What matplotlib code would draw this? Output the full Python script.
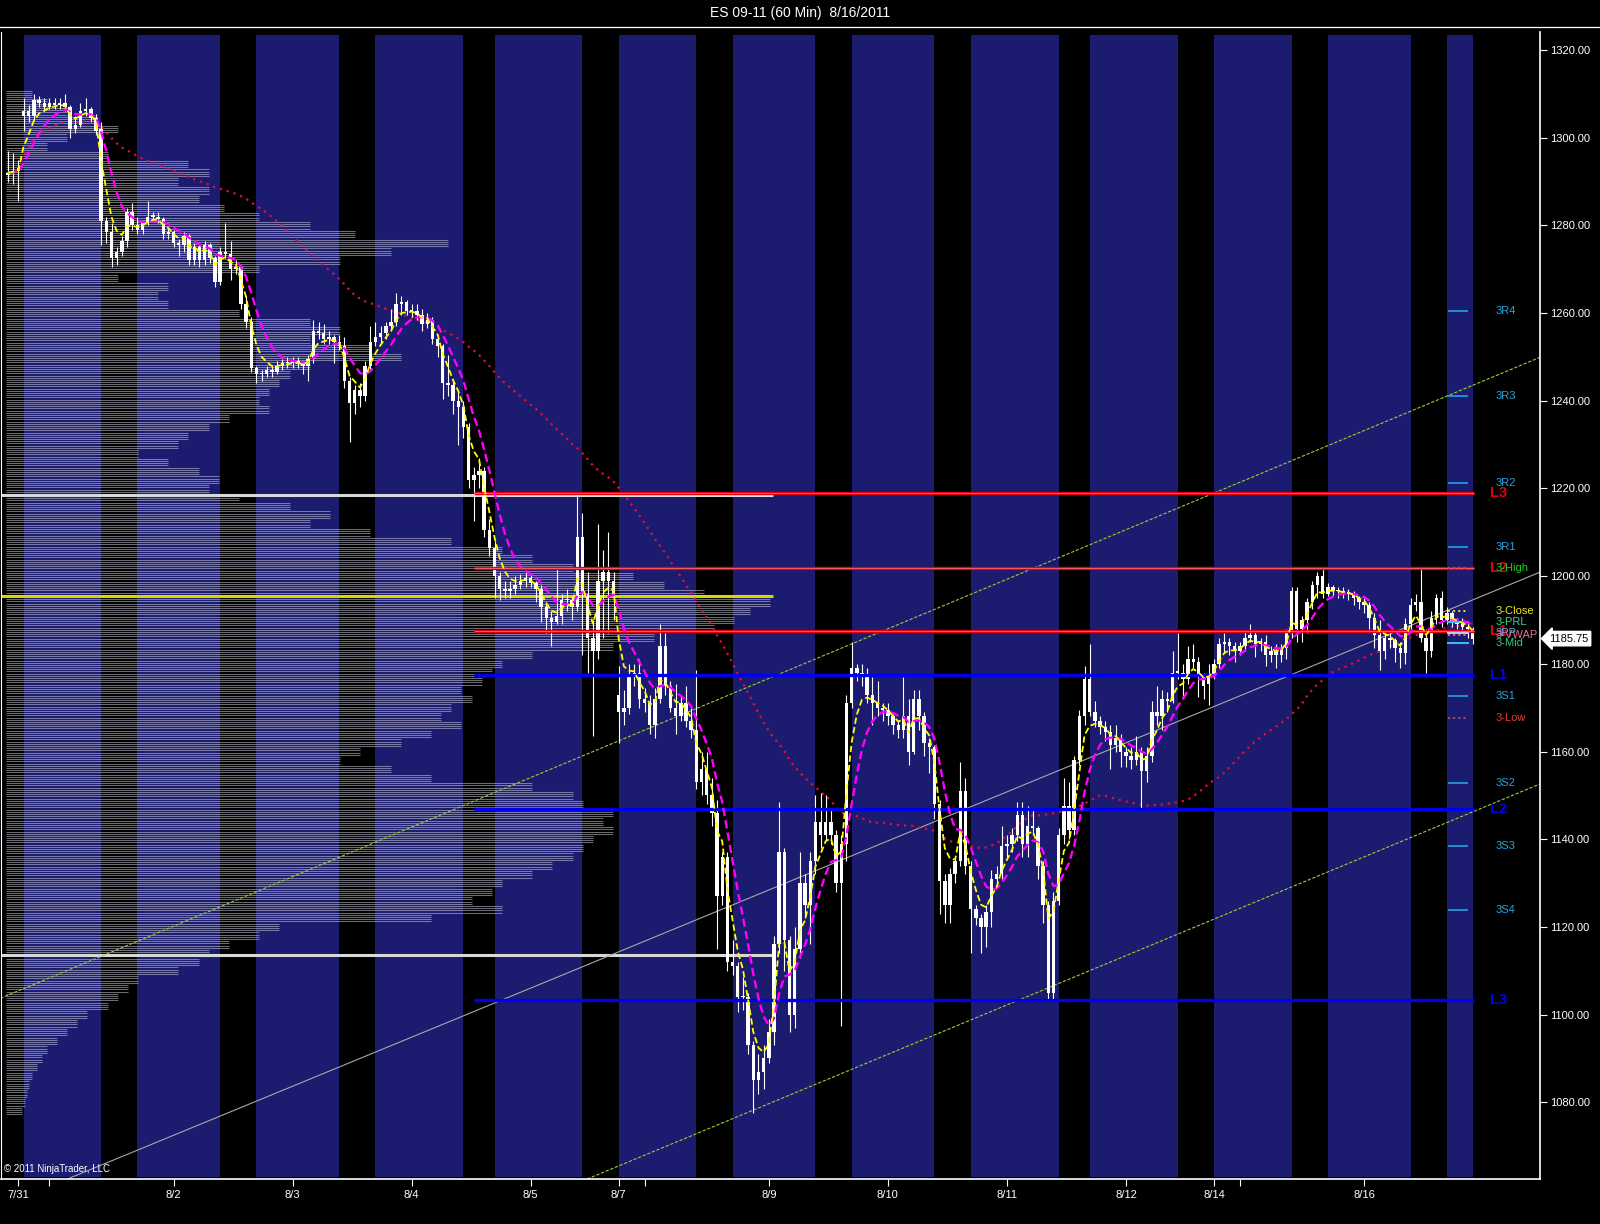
import numpy as np
import pandas as pd
import matplotlib
matplotlib.use("Agg")
import matplotlib.pyplot as plt
from matplotlib.collections import LineCollection
from matplotlib.lines import Line2D
from matplotlib.transforms import blended_transform_factory

TITLE = "ES 09-11 (60 Min)  8/16/2011"

# hourly bars, index 0 = first bar on the chart (7/31 evening)
OPEN = [
    1291.5, 1292, 1292.5, 1305, 1306, 1305, 1308.5, 1308, 1307, 1308, 1307.5, 1308,
    1307, 1302, 1303, 1306, 1306.5, 1304.5, 1302, 1281, 1278.5, 1272.5, 1274, 1276.5,
    1283, 1280, 1279, 1280.5, 1282, 1282, 1281.5, 1278, 1278.5, 1276, 1275.5, 1277.5,
    1272, 1275, 1272, 1275.5, 1272.5, 1267, 1274, 1273.5, 1270, 1270.5, 1262, 1258,
    1247.5, 1246, 1246, 1247, 1246.5, 1248, 1248.5, 1248.5, 1249, 1248.5, 1248, 1249.5,
    1256, 1255.5, 1254, 1254.5, 1253.5, 1252.5, 1244.5, 1239.5, 1242.5, 1241, 1248, 1253.5,
    1254.5, 1255.5, 1257, 1258, 1262, 1262.5, 1260.5, 1260.5, 1259.5, 1257.5, 1258.5, 1254,
    1252.5, 1244, 1243.5, 1240, 1238.5, 1234, 1222, 1223, 1224, 1210.5, 1206.5, 1200,
    1197, 1196.5, 1197, 1198, 1199, 1199.5, 1198.5, 1197, 1193, 1190.5, 1189.5, 1191,
    1194.5, 1194.5, 1193, 1209, 1196, 1186, 1183, 1199, 1201, 1199, 1173, 1169,
    1170, 1177, 1178, 1172, 1171, 1166, 1172, 1184, 1175, 1170, 1168, 1171,
    1167, 1165, 1153, 1156, 1150, 1146, 1127, 1136, 1112, 1111, 1104, 1104,
    1093, 1085, 1087, 1090, 1096, 1116, 1137, 1117, 1100, 1115, 1130, 1125,
    1135, 1144, 1141, 1144, 1141, 1130, 1139, 1171, 1179, 1178, 1177, 1173,
    1171, 1170, 1169.5, 1168, 1166, 1165, 1168, 1160, 1172, 1168, 1162, 1161,
    1148, 1130.5, 1125, 1132, 1135, 1151, 1134, 1124, 1122, 1120, 1123.5, 1131,
    1132, 1138.5, 1139, 1141, 1145.5, 1139, 1143, 1142.5, 1134, 1125, 1105, 1126,
    1141, 1147.5, 1142, 1158, 1168, 1176.5, 1169, 1167, 1165.5, 1164.5, 1161.5, 1163,
    1160, 1159, 1158, 1160, 1155.5, 1159, 1169, 1168, 1172, 1171.5, 1178, 1178,
    1176.5, 1181, 1180.5, 1177, 1175.5, 1177.5, 1180, 1184.5, 1185, 1184, 1183, 1184,
    1186, 1186.5, 1184.5, 1185, 1182, 1183, 1182, 1183.5, 1187, 1196.5, 1188, 1190,
    1194, 1198, 1200, 1196, 1197.5, 1196.5, 1196.5, 1196, 1196, 1195, 1194, 1193.5,
    1190.5, 1186.5, 1183, 1186, 1185.5, 1183.5, 1182.5, 1189, 1193.5, 1194, 1186, 1183,
    1190.5, 1195, 1190, 1191.5, 1189.5, 1189, 1188.5, 1188,
]
HIGH = [
    1297, 1296.5, 1295, 1309, 1307.5, 1310, 1309.5, 1309, 1309, 1309, 1309, 1310,
    1307.5, 1305, 1308, 1309, 1307, 1305.5, 1303.5, 1282, 1280.5, 1275, 1277.5, 1284,
    1285, 1282, 1281, 1285.5, 1283, 1283, 1282, 1279.5, 1279, 1277, 1278.5, 1278,
    1276, 1275.5, 1276.5, 1276, 1273, 1275, 1280.5, 1276.5, 1272, 1271, 1264, 1259,
    1248, 1247, 1248, 1248, 1249, 1249.5, 1250, 1250, 1250, 1249, 1250.5, 1258.5,
    1258, 1257.5, 1256, 1255, 1255, 1254.5, 1245.5, 1243.5, 1244, 1249, 1257, 1258,
    1257, 1258, 1261, 1264.5, 1264, 1263, 1262, 1262, 1261, 1260, 1259, 1255,
    1253, 1250.5, 1245, 1242, 1240, 1235, 1225, 1227, 1225, 1213, 1208, 1201,
    1199, 1199, 1200, 1200.5, 1201, 1200.5, 1199, 1198, 1194, 1192, 1202, 1196,
    1197, 1195.5, 1219, 1214.5, 1201, 1190, 1212, 1206, 1210, 1201, 1179.5, 1174,
    1180, 1180, 1181, 1174.5, 1173, 1174.5, 1189, 1187, 1176, 1175.5, 1173, 1175,
    1170, 1178.5, 1160, 1160, 1154, 1149, 1137, 1137, 1117, 1112, 1108.5, 1105,
    1094, 1091, 1093, 1099, 1118, 1148.5, 1138, 1118, 1120, 1137, 1132, 1137,
    1150, 1150.5, 1150, 1147, 1142, 1141, 1173, 1185, 1180, 1180, 1179, 1177,
    1176, 1171, 1171, 1168.5, 1167, 1177, 1172, 1174, 1174, 1169, 1163, 1161.5,
    1149, 1132, 1133.5, 1136, 1157.5, 1154, 1135, 1125, 1123, 1125, 1133, 1134,
    1143, 1141, 1142.5, 1148.5, 1148.5, 1147.5, 1147, 1143, 1135, 1126, 1128, 1142.5,
    1154, 1153, 1159, 1169.5, 1179.5, 1184.5, 1171.5, 1168, 1167, 1166, 1166, 1164,
    1161, 1161, 1163.5, 1161, 1161, 1171.5, 1175, 1174, 1173.5, 1183, 1187, 1180,
    1184, 1184.5, 1181.5, 1178, 1180, 1181, 1186, 1187, 1186, 1185, 1185, 1187.5,
    1189, 1187.5, 1186, 1186.5, 1184, 1184.5, 1184.5, 1188, 1197.5, 1197.5, 1191, 1195,
    1199, 1201, 1202, 1198.5, 1198, 1197.5, 1197.5, 1197, 1196.5, 1195.5, 1195, 1194,
    1191.5, 1190, 1187, 1187, 1186, 1185, 1190.5, 1195, 1196, 1202, 1188, 1192,
    1196, 1196.5, 1193, 1192, 1190.5, 1190.5, 1189.5, 1188.5,
]
LOW = [
    1290, 1289.5, 1285.5, 1301.5, 1303.5, 1304, 1307, 1306, 1306.5, 1306.5, 1306.5, 1306,
    1300, 1301, 1302.5, 1305, 1303.5, 1300.5, 1275.5, 1276, 1270.5, 1271, 1273, 1275,
    1279, 1278, 1278, 1280, 1281, 1280.5, 1277, 1277, 1275, 1273, 1274, 1271,
    1271, 1270.5, 1271, 1271.5, 1266, 1266.5, 1272.5, 1267.5, 1269, 1261, 1256.5, 1246.5,
    1244, 1244.5, 1245.5, 1245.5, 1246, 1247, 1247.5, 1247.5, 1247.5, 1246, 1244.5, 1248.5,
    1254, 1253, 1253, 1248.5, 1251.5, 1243, 1230.5, 1237, 1238.5, 1240, 1247, 1252.5,
    1253, 1254, 1256, 1257, 1259.5, 1259.5, 1259, 1258.5, 1256, 1256.5, 1253, 1250,
    1240.5, 1241, 1237, 1230, 1231.5, 1220, 1212.5, 1220, 1209, 1204.5, 1195, 1194.5,
    1195, 1195, 1196, 1197, 1197.5, 1197.5, 1194, 1189.5, 1187, 1184, 1189, 1189,
    1192, 1190, 1192, 1182, 1178, 1163.5, 1181, 1186, 1187, 1190, 1162, 1166,
    1168.5, 1175, 1170, 1169, 1164, 1163, 1171, 1173, 1169, 1164, 1167, 1165.5,
    1163, 1151.5, 1150, 1148, 1143, 1115, 1125, 1110, 1109, 1100.5, 1101, 1091,
    1077.5, 1082, 1083, 1089, 1093, 1114, 1110, 1096, 1097, 1113, 1122, 1116,
    1132, 1138, 1139.5, 1139, 1128, 1097.5, 1135, 1170, 1176, 1175, 1171, 1166,
    1168, 1167, 1166, 1164, 1163, 1163, 1157, 1159.5, 1165, 1159, 1155, 1144.5,
    1123, 1121, 1121, 1130, 1134, 1132, 1114, 1120.5, 1114, 1115.5, 1120, 1129.5,
    1131, 1136, 1137, 1139.5, 1136, 1136, 1141, 1131, 1121, 1103, 1103.5, 1125,
    1139, 1140, 1141, 1157, 1166, 1168, 1165.5, 1164, 1162.5, 1156, 1160, 1156.5,
    1156.5, 1156, 1157, 1147, 1153, 1157.5, 1166, 1165, 1169, 1171, 1176.5, 1172,
    1175.5, 1179, 1172.5, 1172, 1170.5, 1176.5, 1179, 1182.5, 1182, 1180.5, 1182, 1183,
    1185, 1181.5, 1183, 1179.5, 1180.5, 1179, 1180.5, 1181, 1186, 1185, 1185, 1187,
    1192.5, 1195, 1195, 1195.5, 1195.5, 1195, 1195, 1194.5, 1193.5, 1192.5, 1191.5, 1188,
    1183.5, 1178.5, 1181, 1183.5, 1180.5, 1179, 1180, 1188, 1192, 1185, 1178, 1181.5,
    1189, 1188.5, 1189, 1188.5, 1188, 1187.5, 1186, 1184.5,
]
CLOSE = [
    1292, 1292.5, 1293, 1306, 1305, 1308.5, 1308, 1307, 1308, 1307.5, 1308, 1307,
    1302, 1303, 1306, 1306.5, 1304.5, 1301.5, 1281, 1278.5, 1272.5, 1274, 1276.5, 1283,
    1280, 1279, 1280.5, 1282, 1282, 1281.5, 1278, 1278.5, 1276, 1275.5, 1277.5, 1272,
    1275, 1272, 1275.5, 1272.5, 1267, 1274, 1273.5, 1270, 1270.5, 1262, 1258, 1247.5,
    1246, 1246, 1247, 1246.5, 1248, 1248.5, 1248.5, 1249, 1248.5, 1248, 1249.5, 1256,
    1255.5, 1254, 1254.5, 1253.5, 1252.5, 1244.5, 1239.5, 1242.5, 1241, 1248, 1253.5, 1254.5,
    1255.5, 1257, 1258, 1262, 1262.5, 1260.5, 1260.5, 1259.5, 1257.5, 1258.5, 1254, 1252.5,
    1244, 1243.5, 1240, 1238.5, 1234, 1222, 1223, 1224, 1210.5, 1206.5, 1200, 1197,
    1196.5, 1197, 1198, 1199, 1199.5, 1198.5, 1197, 1193, 1190.5, 1189.5, 1191, 1194.5,
    1194.5, 1193, 1209, 1196, 1186, 1183, 1199, 1201, 1199, 1196, 1169, 1170,
    1177, 1178, 1172, 1171, 1166, 1172, 1184, 1175, 1170, 1168, 1171, 1167,
    1165, 1153, 1156, 1150, 1146, 1127, 1136, 1112, 1111, 1104, 1104, 1093,
    1085, 1087, 1090, 1096, 1116, 1137, 1117, 1100, 1115, 1130, 1125, 1135,
    1144, 1141, 1144, 1141, 1130, 1139, 1171, 1179, 1178, 1177, 1173, 1171,
    1170, 1169.5, 1168, 1166, 1165, 1168, 1160, 1172, 1168, 1162, 1161, 1148,
    1130.5, 1125, 1132, 1135, 1151, 1134, 1124, 1122, 1120, 1123.5, 1131, 1132,
    1138.5, 1139, 1141, 1145.5, 1139, 1143, 1142.5, 1134, 1125, 1105, 1126, 1141,
    1147.5, 1142, 1158, 1168, 1176.5, 1169, 1167, 1165.5, 1164.5, 1161.5, 1163, 1160,
    1159, 1158, 1160, 1155.5, 1159, 1169, 1168, 1172, 1171.5, 1178, 1178, 1176.5,
    1181, 1180.5, 1177, 1175, 1177.5, 1180, 1184.5, 1185, 1184, 1183, 1184, 1186,
    1186.5, 1184.5, 1185, 1182, 1183, 1182, 1183.5, 1187, 1196.5, 1188, 1190, 1194,
    1198, 1200, 1196, 1197.5, 1196.5, 1196.5, 1196, 1196, 1195, 1194, 1193.5, 1190.5,
    1186.5, 1183, 1186, 1185.5, 1183.5, 1182.5, 1189, 1193.5, 1194, 1186, 1183, 1190.5,
    1195, 1190, 1191.5, 1189.5, 1189, 1188.5, 1188, 1185.75,
]
LAST_PRICE = 1185.75

# overnight (blue) sessions, in bar indices
ON_START = [3, 25, 48, 71, 94, 118, 140, 163, 186, 209, 233, 255, 278]
ON_END = [18, 41, 64, 88, 111, 133, 156, 179, 203, 226, 248, 271, 283]

DATE_TICKS = [2, 8, 32, 55, 78, 101, 118, 123, 147, 170, 193, 216, 233, 238, 262]
DATE_LABELS = ["7/31", "", "8/2", "8/3", "8/4", "8/5", "8/7", "", "8/9",
               "8/10", "8/11", "8/12", "8/14", "", "8/16"]

# volume profile, 2-point bins from 1310 down to 1078 (relative volume)
PROFILE_TOP = 1310
PROFILE_STEP = 2
PROFILE_VOL = [
    25, 40, 60, 90, 110, 60, 40, 100, 180, 200,
    170, 200, 190, 215, 250, 300, 345, 437, 380, 330,
    250, 110, 160, 150, 160, 230, 300, 330, 300, 360,
    390, 300, 280, 270, 260, 250, 260, 220, 200, 180,
    170, 130, 160, 190, 210, 200, 230, 280, 320, 300,
    360, 440, 490, 520, 560, 620, 650, 690, 755, 735,
    720, 700, 640, 600, 520, 490, 480, 470, 450, 460,
    440, 430, 450, 420, 390, 350, 330, 380, 420, 520,
    560, 570, 600, 590, 600, 580, 570, 560, 540, 520,
    490, 480, 460, 490, 420, 270, 250, 220, 200, 190,
    170, 130, 120, 110, 100, 80, 70, 60, 50, 40,
    35, 30, 25, 22, 20, 18, 15,
]
POC = 1195.5
VA_HIGH = 1218.5
VA_LOW = 1113.5

LEVEL_NAMES = ["L3", "L2", "L1", "L1", "L2", "L3"]
LEVEL_PRICES = [1219.0, 1201.75, 1187.5, 1177.5, 1147.0, 1103.25]
LEVEL_COLORS = ["#e00010", "#e00010", "#e00010", "#0000f0", "#0000f0", "#0000f0"]

PIVOT_NAMES = ["3R4", "3R3", "3R2", "3R1", "3S1", "3S2", "3S3", "3S4"]
PIVOT_PRICES = [1260.5, 1241.0, 1221.25, 1206.75, 1172.75, 1152.75, 1138.5, 1123.75]

REF_NAMES = ["3-High", "3-Close", "3-PRL", "3PP", "3-VWAP", "3-Mid", "3-Low"]
REF_PRICES = [1201.75, 1192.0, 1189.5, 1187.0, 1186.5, 1184.75, 1167.75]
REF_COLORS = ["#22cc22", "#e8e82a", "#33dd88", "#6fa8dc", "#e0709a", "#33cc77", "#e0402a"]
REF_LINE = ["#d04050", "#e8e82a", "#30c8f0", "#c8c8ff", "#e0709a", "#30c8f0", "#d04050"]
REF_STYLE = [":", ":", "-", "-", ":", "-", ":"]

# channel (two anchor points each: bar index, price)
CHANNEL_UPPER = ([-1.5, 296.0], [1103.7, 1249.9])
CHANNEL_LOWER = ([111.9, 296.0], [1062.5, 1152.6])
CHANNEL_MID = ([11.7, 296.0], [1062.6, 1200.9])

plt.rcParams["font.family"] = ["Liberation Sans", "DejaVu Sans"]

W, H = 1600, 1224
fig = plt.figure(figsize=(W / 100, H / 100), dpi=100, facecolor="black")
ax = fig.add_axes([1 / W, 45 / H, 1539 / W, 1147 / H])
ax.set_facecolor("black")
ax.set_xlim(-1.35, 296.0)
ax.set_ylim(1062.5, 1324.1)

o = np.array(OPEN, dtype=float)
h = np.array(HIGH, dtype=float)
l = np.array(LOW, dtype=float)
c = np.array(CLOSE, dtype=float)
x = np.arange(len(c))

# session shading
for s, e in zip(ON_START, ON_END):
    ax.axvspan(s, e, ymin=0.002, ymax=0.997, color="#1b1b6f", lw=0, zorder=0)

# volume profile
vol = np.array(PROFILE_VOL, dtype=float)
levels = PROFILE_TOP - PROFILE_STEP * np.arange(len(vol))
plen = vol / vol.max() * 147.5
segs = []
for p, ln in zip(levels, plen):
    for off in (-0.75, -0.25, 0.25, 0.75):
        segs.append([(-0.3, p + off), (-0.3 + ln, p + off)])
ax.add_collection(LineCollection(segs, colors=[(0.85, 0.85, 0.9, 0.5)], linewidths=0.75, zorder=1))

ax.hlines([VA_HIGH, VA_LOW], -1.35, 147.8, colors="#d8d8d8", lw=2.2, zorder=2)
ax.hlines(POC, -1.35, 147.8, colors="#d8d800", lw=2.2, zorder=2)

# channel lines
ax.plot(*CHANNEL_UPPER, color="#9acd32", lw=0.8, ls=(0, (3, 1.5)), zorder=2)
ax.plot(*CHANNEL_LOWER, color="#9acd32", lw=0.8, ls=(0, (3, 1.5)), zorder=2)
ax.plot(*CHANNEL_MID, color="#a8a8a8", lw=0.8, zorder=2)

# moving averages
cs = pd.Series(c)
fast = cs.ewm(span=4, adjust=False).mean()
slow = fast.ewm(span=5, adjust=False).mean()
long_ma = cs.rolling(50, min_periods=1).mean()
ax.plot(x, long_ma, color="#e0103a", lw=1.6, ls=(0, (1, 2.2)), zorder=3)

# candles
ax.vlines(x, l, h, colors="white", lw=0.8, zorder=4)
body_lo = np.minimum(o, c)
body_h = np.maximum(np.abs(c - o), 0.3)
ax.bar(x, body_h, bottom=body_lo, width=0.66, color="white", lw=0, zorder=4)

# levels
for name, p, col in zip(LEVEL_NAMES, LEVEL_PRICES, LEVEL_COLORS):
    ax.hlines(p, 90, 283.2, colors=col, lw=2.4, zorder=4.5)
    if col == "#e00010":
        ax.hlines(p, 90, 283.2, colors="#f08888", lw=0.5, zorder=4.6)
    ax.text(286.3, p, name, color=col, fontsize=10.5, fontweight="bold", va="center", ha="left", zorder=6)

# pivots
for name, p in zip(PIVOT_NAMES, PIVOT_PRICES):
    ax.hlines(p, 278.2, 282.1, colors="#1fa5e8", lw=1.2, zorder=3)
    ax.text(287.4, p, name, color="#29a3dc", fontsize=8, va="center", ha="left", zorder=6)
for name, p, tc, lc, st in zip(REF_NAMES, REF_PRICES, REF_COLORS, REF_LINE, REF_STYLE):
    ax.plot([278.2, 282.1], [p, p], color=lc, lw=1.4, ls=st, zorder=4.7)
    ax.text(287.4, p, name, color=tc, fontsize=8, va="center", ha="left", zorder=6)

ax.plot(x, slow, color="#ff00ff", lw=1.7, ls=(0, (3.5, 1.8)), zorder=5)
ax.plot(x, fast, color="#ffff00", lw=1.3, ls=(0, (3.5, 1.8)), zorder=5)

# axes styling
ax.spines["top"].set_visible(False)
for side in ("left", "right", "bottom"):
    ax.spines[side].set_color("white")
ax.spines["left"].set_linewidth(0.8)
ax.spines["right"].set_linewidth(1.2)
ax.spines["bottom"].set_linewidth(1.2)

ax.yaxis.tick_right()
yt = np.arange(1080, 1321, 20)
ax.set_yticks(yt)
ax.set_yticklabels([f"{v:.2f}" for v in yt])
ax.tick_params(axis="y", colors="white", labelsize=8, length=5, width=0.8, pad=2)
ax.set_xticks(DATE_TICKS)
ax.set_xticklabels(DATE_LABELS)
ax.tick_params(axis="x", colors="white", labelsize=8, length=5, width=0.8, pad=3)

# last price tag
tr = blended_transform_factory(ax.transAxes, ax.transData)
ax.text(1.006, LAST_PRICE, f"{LAST_PRICE:.2f}", transform=tr, ha="left", va="center",
        fontsize=8, color="black", clip_on=False, zorder=7,
        bbox=dict(boxstyle="larrow,pad=0.2", fc="white", ec="white"))

ax.text(0.002, 0.004, "\u00a9 2011 NinjaTrader, LLC", transform=ax.transAxes,
        color="white", fontsize=7, ha="left", va="bottom", zorder=7)

fig.text(0.5, 1 - 13 / H, TITLE, ha="center", va="center", color="white", fontsize=10)
fig.add_artist(Line2D([0, 1], [1 - 27 / H, 1 - 27 / H], color="white", lw=0.9))

fig.savefig("out.png", dpi=100, facecolor="black")
